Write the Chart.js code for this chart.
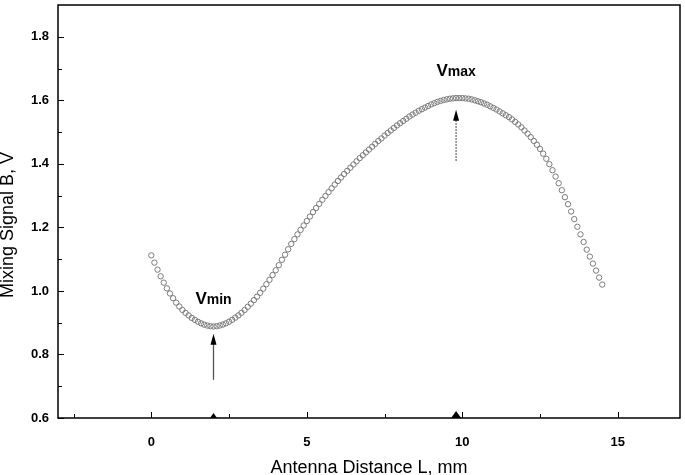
<!DOCTYPE html>
<html>
<head>
<meta charset="utf-8">
<script src="https://cdn.jsdelivr.net/npm/chart.js@4/dist/chart.umd.min.js"></script>
<style>
  html, body { margin: 0; padding: 0; background: #fff; }
</style>
</head>
<body>
<canvas id="chart" width="685" height="475"></canvas>
<script>
// antenna distance, mm
const distance = [
  0.0, 0.1, 0.2, 0.3, 0.4, 0.5, 0.6, 0.7, 0.8, 0.9,
  1.0, 1.1, 1.2, 1.3, 1.4, 1.5, 1.6, 1.7, 1.8, 1.9,
  2.0, 2.1, 2.2, 2.3, 2.4, 2.5, 2.6, 2.7, 2.8, 2.9,
  3.0, 3.1, 3.2, 3.3, 3.4, 3.5, 3.6, 3.7, 3.8, 3.9,
  4.0, 4.1, 4.2, 4.3, 4.4, 4.5, 4.6, 4.7, 4.8, 4.9,
  5.0, 5.1, 5.2, 5.3, 5.4, 5.5, 5.6, 5.7, 5.8, 5.9,
  6.0, 6.1, 6.2, 6.3, 6.4, 6.5, 6.6, 6.7, 6.8, 6.9,
  7.0, 7.1, 7.2, 7.3, 7.4, 7.5, 7.6, 7.7, 7.8, 7.9,
  8.0, 8.1, 8.2, 8.3, 8.4, 8.5, 8.6, 8.7, 8.8, 8.9,
  9.0, 9.1, 9.2, 9.3, 9.4, 9.5, 9.6, 9.7, 9.8, 9.9,
  10.0, 10.1, 10.2, 10.3, 10.4, 10.5, 10.6, 10.7, 10.8, 10.9,
  11.0, 11.1, 11.2, 11.3, 11.4, 11.5, 11.6, 11.7, 11.8, 11.9,
  12.0, 12.1, 12.2, 12.3, 12.4, 12.5, 12.6, 12.7, 12.8, 12.9,
  13.0, 13.1, 13.2, 13.3, 13.4, 13.5, 13.6, 13.7, 13.8, 13.9,
  14.0, 14.1, 14.2, 14.3, 14.4, 14.5
];

// mixing signal B, V
const signal = [
  1.112, 1.089, 1.067, 1.046, 1.026, 1.008, 0.992, 0.977, 0.963, 0.951,
  0.940, 0.931, 0.923, 0.915, 0.909, 0.903, 0.898, 0.894, 0.891, 0.889,
  0.888, 0.889, 0.891, 0.894, 0.898, 0.903, 0.909, 0.916, 0.923, 0.931,
  0.940, 0.950, 0.960, 0.971, 0.982, 0.994, 1.007, 1.021, 1.035, 1.050,
  1.065, 1.081, 1.098, 1.114, 1.131, 1.148, 1.163, 1.178, 1.192, 1.206,
  1.220, 1.234, 1.248, 1.261, 1.274, 1.287, 1.299, 1.311, 1.323, 1.335,
  1.346, 1.357, 1.368, 1.378, 1.388, 1.398, 1.408, 1.418, 1.427, 1.436,
  1.445, 1.454, 1.463, 1.472, 1.480, 1.489, 1.497, 1.505, 1.513, 1.521,
  1.528, 1.535, 1.542, 1.549, 1.555, 1.561, 1.567, 1.572, 1.577, 1.582,
  1.587, 1.591, 1.595, 1.598, 1.601, 1.603, 1.605, 1.606, 1.607, 1.607,
  1.607, 1.606, 1.605, 1.603, 1.600, 1.597, 1.594, 1.590, 1.586, 1.581,
  1.576, 1.571, 1.565, 1.559, 1.553, 1.547, 1.540, 1.532, 1.524, 1.515,
  1.505, 1.495, 1.484, 1.472, 1.460, 1.447, 1.432, 1.416, 1.399, 1.380,
  1.360, 1.339, 1.317, 1.295, 1.273, 1.250, 1.226, 1.202, 1.178, 1.154,
  1.130, 1.108, 1.086, 1.064, 1.042, 1.020
];

// tick labels
const xTicks = [0, 5, 10, 15];
const xMinorTicks = [-2.5, 2.5, 7.5, 12.5];
const yTicks = [0.6, 0.8, 1.0, 1.2, 1.4, 1.6, 1.8];
const yMinorTicks = [0.7, 0.9, 1.1, 1.3, 1.5, 1.7];

// Vmin / Vmax markers
const markLabels = ['min', 'max'];
const markX = [2.0, 9.8];
const markTextY = [0.96, 1.675];
const arrowFrom = [0.72, 1.41];
const arrowTo = [0.865, 1.57];

const FONT = '"Liberation Sans", Arial, sans-serif';

const points = distance.map((d, i) => ({ x: d, y: signal[i] }));

// inward ticks, frame, arrows and labels
const decorations = {
  id: 'decorations',
  afterDraw(chart) {
    const { ctx, chartArea: a, scales: { x, y } } = chart;
    ctx.save();

    ctx.strokeStyle = '#000';
    ctx.lineWidth = 1;
    ctx.beginPath();
    xTicks.forEach(v => { const px = Math.round(x.getPixelForValue(v)) + 0.5; ctx.moveTo(px, a.bottom); ctx.lineTo(px, a.bottom - 6); });
    xMinorTicks.forEach(v => { const px = Math.round(x.getPixelForValue(v)) + 0.5; ctx.moveTo(px, a.bottom); ctx.lineTo(px, a.bottom - 4); });
    yTicks.forEach(v => { const py = Math.round(y.getPixelForValue(v)) + 0.5; ctx.moveTo(a.left, py); ctx.lineTo(a.left + 6, py); });
    yMinorTicks.forEach(v => { const py = Math.round(y.getPixelForValue(v)) + 0.5; ctx.moveTo(a.left, py); ctx.lineTo(a.left + 4, py); });
    ctx.stroke();

    // frame
    ctx.lineWidth = 1.5;
    ctx.strokeRect(a.left, a.top, a.right - a.left, a.bottom - a.top);

    // markers on the axis, arrows and labels
    markX.forEach((v, i) => {
      const px = x.getPixelForValue(v);
      const big = i === 1;
      const tw = big ? 5 : 3.5, th = big ? 7 : 5;
      ctx.fillStyle = '#000';
      ctx.beginPath();
      ctx.moveTo(px - tw, a.bottom);
      ctx.lineTo(px + tw, a.bottom);
      ctx.lineTo(px, a.bottom - th);
      ctx.closePath();
      ctx.fill();

      const y0 = y.getPixelForValue(arrowFrom[i]);
      const y1 = y.getPixelForValue(arrowTo[i]);
      ctx.strokeStyle = big ? '#444' : '#555';
      ctx.lineWidth = 1.3;
      ctx.setLineDash(big ? [1.5, 1.5] : []);
      ctx.beginPath();
      ctx.moveTo(px, y0);
      ctx.lineTo(px, y1 + 8);
      ctx.stroke();
      ctx.setLineDash([]);
      ctx.beginPath();
      ctx.moveTo(px, y1);
      ctx.lineTo(px - 3, y1 + 11);
      ctx.lineTo(px + 3, y1 + 11);
      ctx.closePath();
      ctx.fill();

      const ty = y.getPixelForValue(markTextY[i]);
      ctx.font = 'bold 17px ' + FONT;
      const vw = ctx.measureText('V').width;
      ctx.font = 'bold 14px ' + FONT;
      const sw = ctx.measureText(markLabels[i]).width;
      const left = px - (vw + sw) / 2;
      ctx.textBaseline = 'alphabetic';
      ctx.textAlign = 'left';
      ctx.font = 'bold 17px ' + FONT;
      ctx.fillText('V', left, ty);
      ctx.font = 'bold 14px ' + FONT;
      ctx.fillText(markLabels[i], left + vw, ty);
    });

    // y axis title
    ctx.fillStyle = '#000';
    ctx.font = '18px ' + FONT;
    ctx.textAlign = 'center';
    ctx.textBaseline = 'middle';
    ctx.translate(8, 225);
    ctx.rotate(-Math.PI / 2);
    ctx.fillText('Mixing Signal B, V', 0, 0);
    ctx.restore();
  }
};

new Chart(document.getElementById('chart'), {
  type: 'scatter',
  data: {
    datasets: [{
      label: 'Mixing Signal B',
      data: points,
      showLine: false,
      pointStyle: 'circle',
      pointRadius: 2.7,
      pointBorderWidth: 1,
      pointBorderColor: '#7a7a7a',
      pointBackgroundColor: 'rgba(255,255,255,0)'
    }]
  },
  options: {
    responsive: false,
    animation: false,
    layout: { padding: { top: 1, right: 3, left: 0, bottom: 0 } },
    plugins: { legend: { display: false }, tooltip: { enabled: false } },
    scales: {
      x: {
        type: 'linear',
        min: -3,
        max: 17,
        afterBuildTicks: (s) => { s.ticks = xTicks.map(v => ({ value: v })); },
        afterFit: (s) => { s.height = 57; s.paddingLeft = 0; s.paddingRight = 0; },
        grid: { display: false, drawTicks: false },
        border: { display: false },
        ticks: {
          color: '#000',
          padding: 17,
          maxRotation: 0,
          autoSkip: false,
          font: { family: FONT, size: 13, weight: 'bold' },
          callback: (v) => String(v)
        },
        title: {
          display: true,
          text: 'Antenna Distance L, mm',
          color: '#000',
          font: { family: FONT, size: 18, lineHeight: 1 },
          padding: { top: 0, bottom: -2 }
        }
      },
      y: {
        type: 'linear',
        min: 0.6,
        max: 1.9,
        afterBuildTicks: (s) => { s.ticks = yTicks.map(v => ({ value: v })); },
        afterFit: (s) => { s.width = 58; s.paddingTop = 0; s.paddingBottom = 0; },
        grid: { display: false, drawTicks: false },
        border: { display: false },
        ticks: {
          color: '#000',
          padding: 9,
          autoSkip: false,
          font: { family: FONT, size: 13, weight: 'bold' },
          callback: (v) => Number(v).toFixed(1)
        }
      }
    }
  },
  plugins: [decorations]
});
</script>
</body>
</html>
